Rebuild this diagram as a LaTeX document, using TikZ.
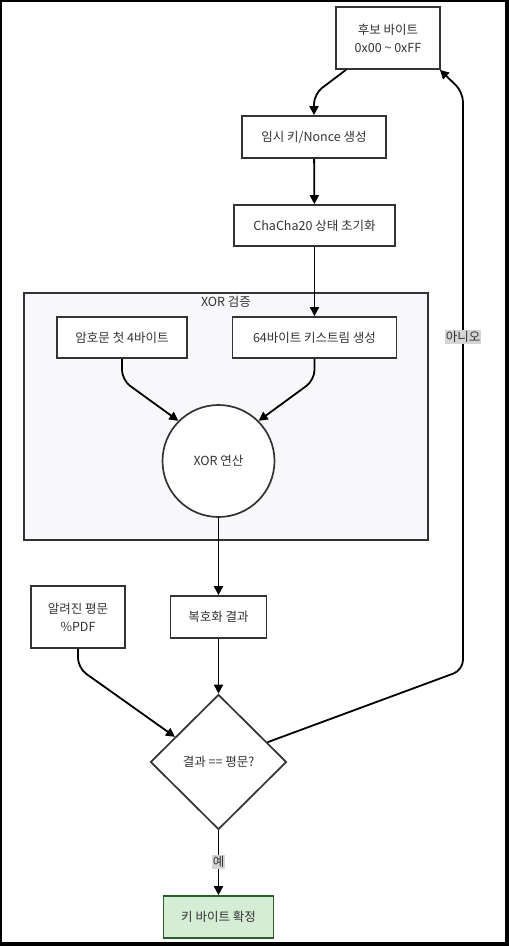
\documentclass[tikz,border=0pt]{standalone}
\usepackage{fontspec}
\setmainfont{Noto Sans CJK KR}
\usetikzlibrary{positioning, arrows.meta, shapes.geometric}
\definecolor{edge}{HTML}{333333}
\definecolor{grpbg}{HTML}{F8F8FB}
\definecolor{lblbg}{HTML}{D4D4D4}
\definecolor{okfill}{HTML}{D5ECD5}
\definecolor{okline}{HTML}{2B5E2B}

\begin{document}
\begin{tikzpicture}[x=1pt, y=-1pt,
    txt/.style={text=edge, font=\fontsize{12.5}{18}\selectfont},
    box/.style={txt, draw=edge, line width=1.7pt, fill=white, rectangle, inner sep=0pt, align=center},
    op/.style={txt, draw=edge, line width=1.7pt, fill=white, circle, minimum size=112pt, inner sep=0pt},
    cond/.style={txt, draw=edge, line width=1.7pt, fill=white, diamond, aspect=1, inner sep=0pt, minimum width=136pt, minimum height=135pt},
    grp/.style={draw=edge, line width=1.7pt, fill=grpbg, rectangle, inner sep=0pt},
    link/.style={line width=1.8pt, -{Triangle[length=9pt, width=9pt]}},
    lbl/.style={txt, fill=lblbg, inner sep=1pt},
]
% frame
\fill[black] (0,0) rectangle (509,946);
\fill[white] (2,2) rectangle (505,942);

% group
\node[grp, minimum width=404pt, minimum height=247pt] (xorgrp) at (226,416.5) {};
\node[txt] (xorgrptitle) at (226,302) {XOR 검증};

\node[box, minimum width=104pt, minimum height=62pt] (cand) at (388,38) {후보 바이트\\0x00 \textasciitilde{} 0xFF};
\node[box, minimum width=144pt, minimum height=42pt] (nonce) at (314,137) {임시 키/Nonce 생성};
\node[box, minimum width=161pt, minimum height=41pt] (chacha) at (314.5,225.5) {ChaCha20 상태 초기화};
\node[box, minimum width=130pt, minimum height=41pt] (cipher) at (122,337.5) {암호문 첫 4바이트};
\node[box, minimum width=164pt, minimum height=41pt] (kstream) at (314.5,337.5) {64바이트 키스트림 생성};
\node[op] (xorop) at (218.5,461) {XOR 연산};
\node[box, minimum width=94pt, minimum height=62pt] (plain) at (78,617) {알려진 평문\\\%PDF};
\node[box, minimum width=96pt, minimum height=42pt] (dec) at (218.5,617) {복호화 결과};
\node[cond] (check) at (218.5,762) {결과 == 평문?};
\node[box, fill=okfill, draw=okline, minimum width=110pt, minimum height=42pt] (found) at (218.5,917) {키 바이트 확정};

\draw[link, rounded corners=10pt] ([xshift=-42pt]cand.south) -- (314,94) -- (nonce.north);
\draw[link] (nonce) -- (chacha);
\draw[link] (chacha) -- (kstream);
\draw[link, rounded corners=10pt] (cipher.south) -- (122,380) -- (xorop.135);
\draw[link, rounded corners=10pt] (kstream.south) -- (314.5,380) -- (xorop.45);
\draw[link] (xorop) -- (dec);
\draw[link, rounded corners=10pt] (plain.south) -- (78,668) -- (check.150);
\draw[link] (dec) -- (check);
\draw[link] (check) -- (found);
\draw[link, rounded corners=10pt] (check.22) -- (463,670) -- (463,92) -- ([xshift=-1pt]cand.south east);

\node[lbl] (yes) at (218.5,862) {예};
\node[lbl] (no) at (463,337) {아니오};
\end{tikzpicture}
\end{document}
